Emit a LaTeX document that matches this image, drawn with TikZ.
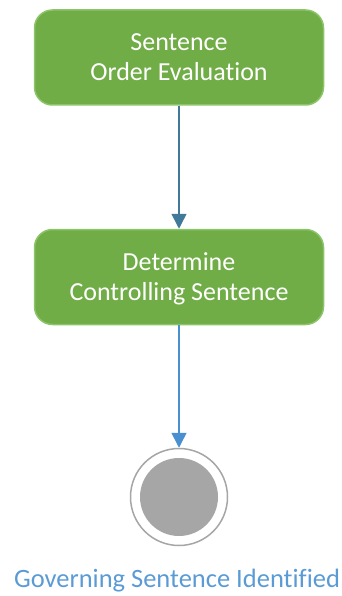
\documentclass[tikz,border=0pt]{standalone}
\usepackage{fontspec}
\setmainfont{Carlito}[Ligatures={NoCommon}]
\usetikzlibrary{arrows.meta}
\definecolor{boxgreen}{HTML}{70AD47}
\definecolor{boxedge}{HTML}{8CC46A}
\definecolor{arrowteal}{HTML}{41799A}
\definecolor{arrowblue}{HTML}{4A8FD0}
\definecolor{labelblue}{HTML}{5B9BD5}
\definecolor{endgray}{HTML}{A6A6A6}
\tikzset{
  stepbox/.style={draw=boxedge, line width=1.5pt, fill=boxgreen, rounded corners=18pt,
    minimum width=289pt, minimum height=95pt, align=center, text=white,
    font=\fontsize{26}{30}\selectfont},
  flow/.style={line width=1.5pt, -{Triangle[width=15pt,length=15pt]}},
}
\begin{document}
\begin{tikzpicture}[x=1pt,y=-1pt]
\useasboundingbox (0,0) rectangle (342,596);
\node[stepbox, text depth=0pt] (s1) at (179,57.5) {Sentence\\Order Evaluation};
\node[stepbox, text depth=0pt] (s2) at (179,277) {Determine\\Controlling Sentence};
\node[circle, draw=endgray, line width=1.5pt, fill=white, minimum size=97pt, inner sep=0pt] (endo) at (179,497) {};
\node[circle, fill=endgray, minimum size=78pt, inner sep=0pt] (endi) at (179,497) {};
\node[text=labelblue, font=\fontsize{26.5}{30}\selectfont, anchor=center] (lab) at (177,581) {Governing Sentence Identified};
\draw[flow, draw=arrowteal] (s1.south) -- (s2.north);
\draw[flow, draw=arrowblue] (s2.south) -- (endo.north);
\end{tikzpicture}
\end{document}
